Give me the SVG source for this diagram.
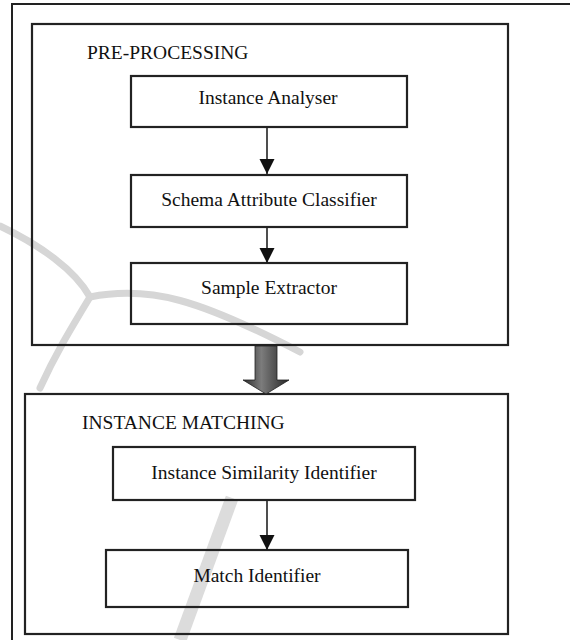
<svg xmlns="http://www.w3.org/2000/svg" width="570" height="640" viewBox="0 0 570 640">
  <defs>
    <style>
      .frame { fill: none; stroke: #222; stroke-width: 2; }
      .box { fill: none; stroke: #222; stroke-width: 2.2; }
      .lbl { font-family: "Liberation Serif", "Times New Roman", serif; font-size: 19.5px; fill: #111; }
      .mid { text-anchor: middle; }
      .conn { stroke: #222; stroke-width: 1.6; fill: none; }
      .sw { fill: none; stroke: #d6d6d6; stroke-width: 7; stroke-linecap: round; }
    </style>
    <marker id="ah" markerUnits="userSpaceOnUse" markerWidth="16" markerHeight="16" refX="15" refY="7.5" orient="auto">
      <path d="M0,0 L15,7.5 L0,15 Z" fill="#111"/>
    </marker>
    <linearGradient id="bigg" x1="0" y1="0" x2="1" y2="0">
      <stop offset="0" stop-color="#2a2a2a"/>
      <stop offset="0.4" stop-color="#7c7c7c"/>
      <stop offset="1" stop-color="#262626"/>
    </linearGradient>
  </defs>
  <rect width="570" height="640" fill="#fff"/>

  <g id="watermark">
    <path class="sw" d="M0,226 C40,245 75,270 90,297"/>
    <path class="sw" d="M90,297 C150,285 200,300 300,352"/>
    <path class="sw" d="M90,297 C70,330 55,355 40,388"/>
    <line x1="232" y1="498" x2="180" y2="640" stroke="#dcdcdc" stroke-width="13"/>
  </g>

  <rect id="outer-frame" class="frame" x="12" y="4" width="600" height="700"/>

  <g id="pre-processing">
    <rect class="box" x="32" y="24" width="476" height="321"/>
    <text class="lbl" x="87" y="59">PRE-PROCESSING</text>
  </g>
  <g id="instance-analyser">
    <rect class="box" x="131" y="76" width="276" height="51"/>
    <text class="lbl mid" x="268" y="104">Instance Analyser</text>
  </g>
  <g id="schema-attribute-classifier">
    <rect class="box" x="131" y="175" width="276" height="52"/>
    <text class="lbl mid" x="269" y="206">Schema Attribute Classifier</text>
  </g>
  <g id="sample-extractor">
    <rect class="box" x="131" y="263" width="276" height="61"/>
    <text class="lbl mid" x="269" y="294">Sample Extractor</text>
  </g>

  <g id="instance-matching">
    <rect class="box" x="25" y="394" width="483" height="240"/>
    <text class="lbl" x="82" y="429">INSTANCE MATCHING</text>
  </g>
  <g id="instance-similarity-identifier">
    <rect class="box" x="113" y="447" width="302" height="53"/>
    <text class="lbl mid" x="264" y="479">Instance Similarity Identifier</text>
  </g>
  <g id="match-identifier">
    <rect class="box" x="106" y="550" width="302" height="57"/>
    <text class="lbl mid" x="257" y="582">Match Identifier</text>
  </g>

  <g id="connectors">
    <line class="conn" x1="267" y1="127" x2="267" y2="174" marker-end="url(#ah)"/>
    <line class="conn" x1="267" y1="227" x2="267" y2="263" marker-end="url(#ah)"/>
    <line class="conn" x1="267" y1="500" x2="267" y2="550" marker-end="url(#ah)"/>
    <path d="M255,346 L277,346 L277,380 L289,380 L266,394 L243,380 L255,380 Z" fill="url(#bigg)" stroke="#222" stroke-width="0.8"/>
  </g>
</svg>
